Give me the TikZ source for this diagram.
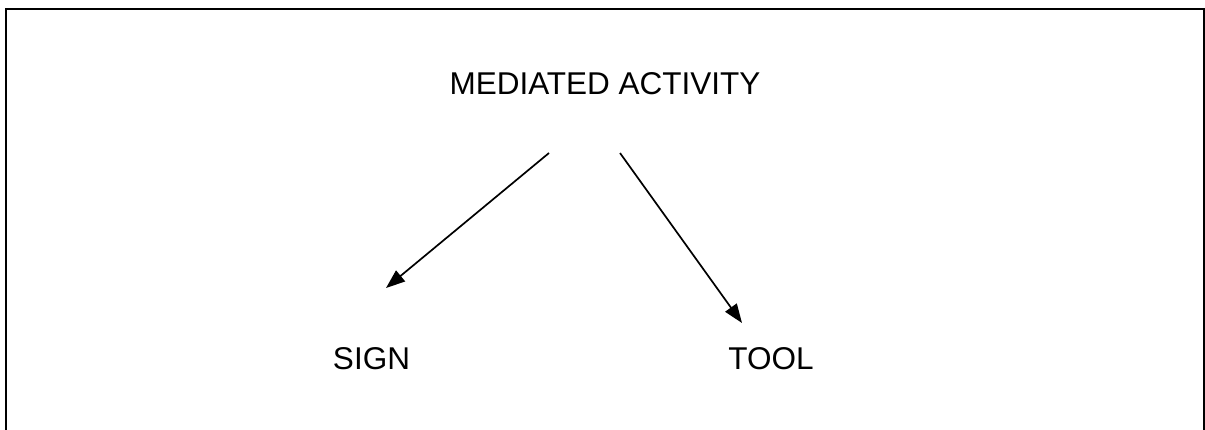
\documentclass[tikz,border=0pt]{standalone}
\usepackage{fontspec}
\setmainfont{Liberation Sans}
\usetikzlibrary{arrows.meta}
\begin{document}
\begin{tikzpicture}[x=1pt,y=-1pt,
  label/.style={font=\fontsize{31.5}{38}\selectfont, anchor=base, inner sep=0pt},
  link/.style={line width=1.7pt, -{Triangle[length=19pt,width=14pt]}},
  frame/.style={line width=2.6pt}]
  \useasboundingbox (0,0) rectangle (1205,430);
  % open frame: left, top and right sides
  \draw[frame] (6,430) -- (6,9) -- (1204,9) -- (1204,430);
  % labels
  \node[label] (act) at (605,95) {MEDIATED ACTIVITY};
  \node[label] (sign) at (371.5,370) {SIGN};
  \node[label] (tool) at (771,370) {TOOL};
  % arrow ends
  \coordinate (actL) at (549,153);
  \coordinate (actR) at (620,153);
  \coordinate (signT) at (386,288);
  \coordinate (toolT) at (742,323);
  \draw[link] (actL) -- (signT);
  \draw[link] (actR) -- (toolT);
\end{tikzpicture}
\end{document}
